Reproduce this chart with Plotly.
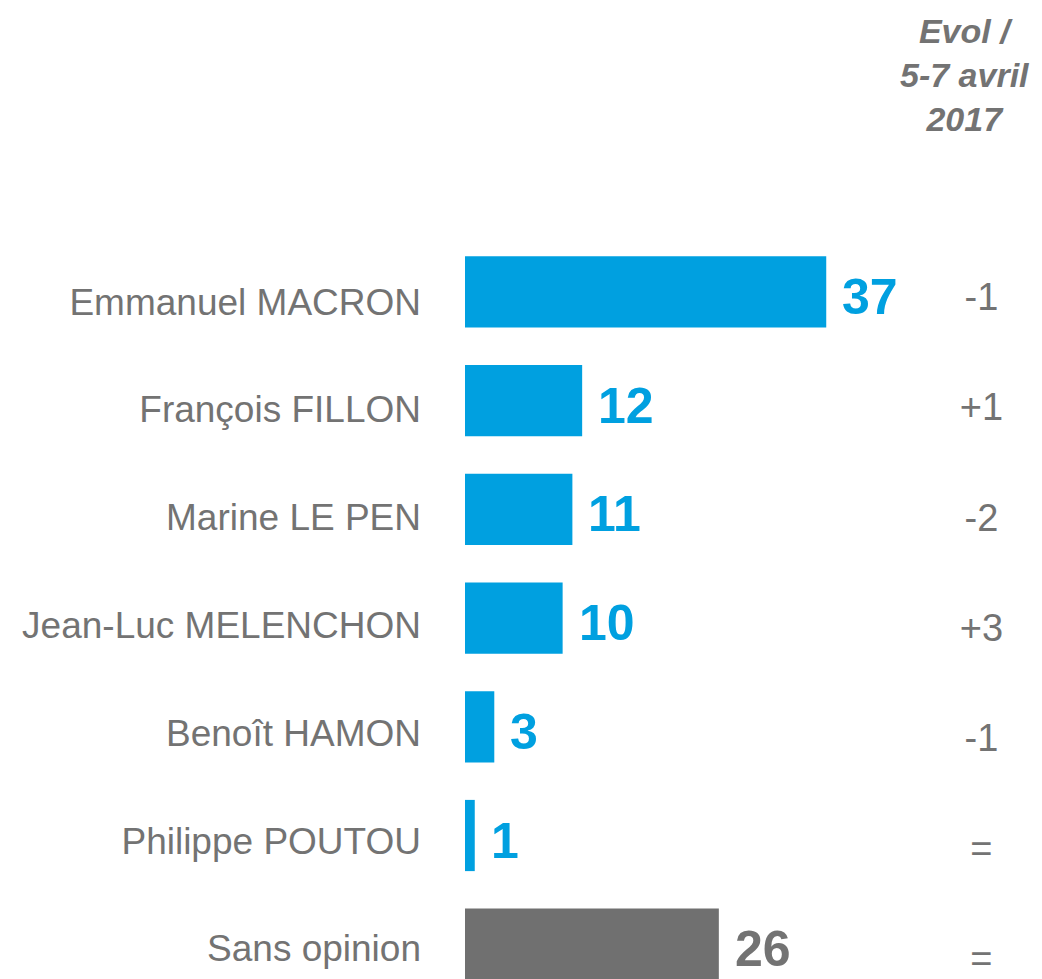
import plotly.graph_objects as go

candidates = ["Emmanuel MACRON", "François FILLON", "Marine LE PEN",
              "Jean-Luc MELENCHON", "Benoît HAMON", "Philippe POUTOU", "Sans opinion"]
values = [37, 12, 11, 10, 3, 1, 26]
evolutions = ["-1", "+1", "-2", "+3", "-1", "=", "="]
evol_title = "Evol /<br>5-7 avril<br>2017"

BLUE = "#00A0E0"
GREY = "#737373"
FONT = "Liberation Sans, Arial, sans-serif"

bar_colors = [BLUE] * 6 + ["#707070"]
value_colors = [BLUE] * 6 + [GREY]

fig = go.Figure()
fig.add_trace(go.Bar(
    x=values, y=candidates, orientation="h",
    marker=dict(color=bar_colors, line=dict(width=0)),
    width=0.655, hoverinfo="skip", showlegend=False,
))
# category labels on an overlaid axis (slightly different spacing than the bars)
fig.add_trace(go.Scatter(
    x=[0] * len(candidates), y=candidates, yaxis="y2",
    mode="markers", marker=dict(opacity=0, size=1),
    hoverinfo="skip", showlegend=False,
))
# evolution column on its own overlaid axis
fig.add_trace(go.Scatter(
    x=[52.9] * len(candidates), y=candidates, yaxis="y3",
    mode="text", text=evolutions, textposition="middle center",
    textfont=dict(family=FONT, size=38, color=GREY),
    hoverinfo="skip", showlegend=False, cliponaxis=False,
))

for c, v, col in zip(candidates, values, value_colors):
    fig.add_annotation(
        x=v, y=c, xref="x", yref="y", text=f"<b>{v}</b>",
        showarrow=False, xanchor="left", yanchor="middle",
        xshift=14, yshift=-5,
        font=dict(family=FONT, size=50, color=col),
    )

fig.add_annotation(
    x=0.8666, y=1.1314, xref="paper", yref="paper", text=f"<b><i>{evol_title}</i></b>",
    showarrow=False, xanchor="center", yanchor="middle",
    font=dict(family=FONT, size=34, color=GREY),
)

fig.update_layout(
    width=1042, height=979,
    margin=dict(l=457, r=8, t=172, b=8),
    paper_bgcolor="white", plot_bgcolor="white",
    xaxis=dict(range=[0, 59.1], visible=False, fixedrange=True),
    yaxis=dict(
        categoryorder="array", categoryarray=candidates,
        range=[6.32, -1.03], showticklabels=False, showgrid=False,
        zeroline=False, showline=False, ticks="",
    ),
    yaxis2=dict(
        overlaying="y", side="left",
        categoryorder="array", categoryarray=candidates,
        range=[6.284, -1.128], showgrid=False, zeroline=False, showline=False,
        ticks="", ticklabelstandoff=43,
        tickfont=dict(family=FONT, size=37, color=GREY),
    ),
    yaxis3=dict(
        overlaying="y", side="right", visible=False,
        categoryorder="array", categoryarray=candidates,
        range=[6.151, -1.0925],
    ),
    font=dict(family=FONT, color=GREY),
)

fig.write_html("out.html")
